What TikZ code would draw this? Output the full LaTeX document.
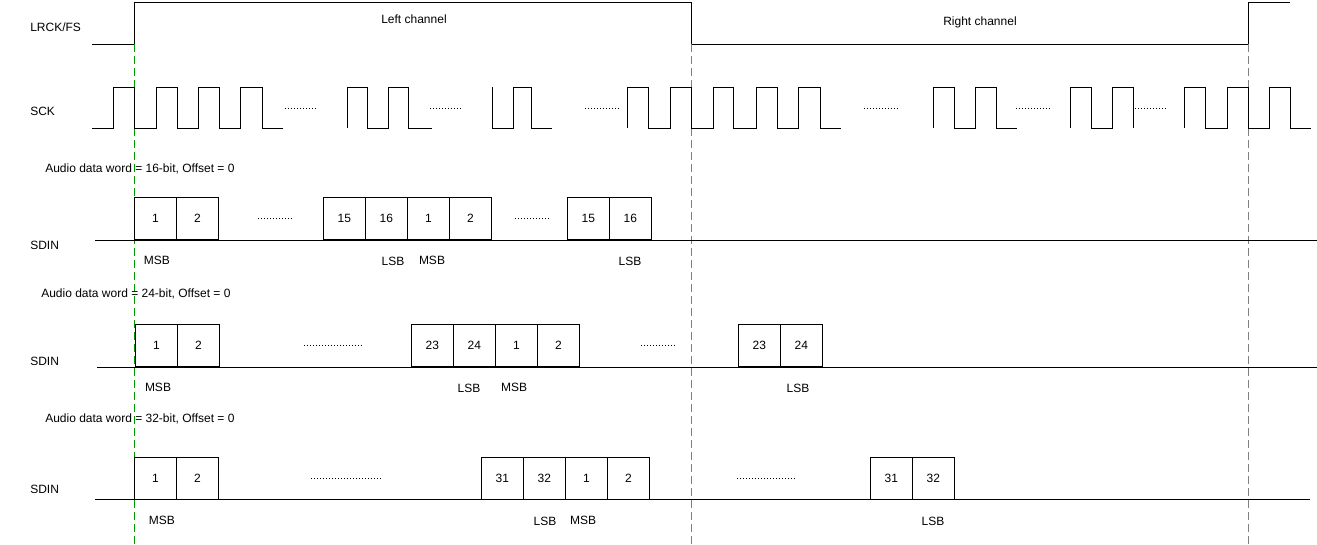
\documentclass[tikz,border=0pt]{standalone}
\usepackage{fontspec}
\setmainfont{Liberation Sans}
\begin{document}
\begin{tikzpicture}[x=0.75pt,y=-0.75pt,
  sig/.style={line width=0.75pt,black},
  base/.style={line width=0.6pt,black},
  bit/.style={draw,line width=0.6pt,minimum width=31.5pt,minimum height=31.5pt,inner sep=0pt,anchor=north west,font=\fontsize{9}{10}\selectfont},
  lbl/.style={font=\fontsize{9}{10}\selectfont,inner sep=0pt},
  dots/.style={dash pattern=on 0.75pt off 1.5pt,line width=0.75pt},
  guide/.style={dashed,dash pattern=on 6pt off 3pt,line width=0.6pt}]
\useasboundingbox (0,0) rectangle (1317,544);
% labels
\node[lbl,anchor=west] (lr) at (30,27) {LRCK/FS};
\node[lbl,anchor=west] (sck) at (30,111) {SCK};
\node[lbl,anchor=west] (s1) at (30,245) {SDIN};
\node[lbl,anchor=west] (s2) at (30,361) {SDIN};
\node[lbl,anchor=west] (s3) at (30,489) {SDIN};
\node[lbl] (lc) at (414,19) {Left channel};
\node[lbl] (rc) at (980,22) {Right channel};
% LRCK
\draw[sig] (92,44) -- (134,44) -- (134,2) -- (691,2) -- (691,44) -- (1248,44) -- (1248,2) -- (1290,2);
% guides
\draw[guide,color=green!60!black] (134,44) -- (134,544);
\draw[guide,gray] (691,44) -- (691,544);
\draw[guide,gray] (1248,44) -- (1248,544);
% SCK
\def\H{87}\def\L{128}
\draw[sig] (92,\L) -- (113,\L) -- (113,\H) -- (134,\H) -- (134,\L) -- (156,\L) -- (156,\H) -- (177,\H) -- (177,\L) -- (198,\L) -- (198,\H) -- (219,\H) -- (219,\L) -- (240,\L) -- (240,\H) -- (262,\H) -- (262,\L) -- (283,\L);
\draw[sig] (347,\L) -- (347,\H) -- (367,\H) -- (367,\L) -- (388,\L) -- (388,\H) -- (408,\H) -- (408,\L) -- (432,\L);
\draw[sig] (492,\H) -- (492,\L) -- (513,\L) -- (513,\H) -- (531,\H) -- (531,\L) -- (552,\L);
\draw[sig] (627,\L) -- (627,\H) -- (648,\H) -- (648,\L) -- (670,\L) -- (670,\H) -- (691,\H) -- (691,\L) -- (713,\L) -- (713,\H) -- (733,\H) -- (733,\L) -- (756,\L) -- (756,\H) -- (777,\H) -- (777,\L) -- (798,\L) -- (798,\H) -- (820,\H) -- (820,\L) -- (841,\L);
\draw[sig] (933,\L) -- (933,\H) -- (954,\H) -- (954,\L) -- (975,\L) -- (975,\H) -- (996,\H) -- (996,\L) -- (1017,\L);
\draw[sig] (1070,\L) -- (1070,\H) -- (1091,\H) -- (1091,\L) -- (1112,\L) -- (1112,\H) -- (1133,\H) -- (1133,\L);
\draw[sig] (1184,\L) -- (1184,\H) -- (1205,\H) -- (1205,\L) -- (1227,\L) -- (1227,\H) -- (1248,\H) -- (1248,\L) -- (1269,\L) -- (1269,\H) -- (1290,\H) -- (1290,\L) -- (1311,\L);
\foreach \a/\b in {285/318,430/463,585/619,864/900,1016/1050,1135/1168}
  \draw[dots] (\a,108) -- (\b,108);
% Row 1
\node[lbl,anchor=west] (t1) at (45,169) {Audio data word = 16-bit, Offset = 0};
\draw[base] (95,240) -- (1317,240);
\foreach \x/\t [count=\i] in {134/1,176/2,323/15,365/16,407/1,449/2,567/15,609/16}
  \node[bit] (ra\i) at (\x,197) {\t};
\draw[dots] (258,218) -- (292,218);
\draw[dots] (515,218) -- (550,218);
\node[lbl] (m1) at (157,260) {MSB};
\node[lbl] (l1) at (393,261) {LSB};
\node[lbl] (m2) at (432,260) {MSB};
\node[lbl] (l2) at (630,261) {LSB};
% Row 2
\node[lbl,anchor=west] (t2) at (41,294) {Audio data word = 24-bit, Offset = 0};
\draw[base] (97,367) -- (1317,367);
\foreach \x/\t [count=\i] in {135/1,177/2,411/23,453/24,495/1,537/2,738/23,780/24}
  \node[bit] (rb\i) at (\x,324) {\t};
\draw[dots] (304,345) -- (363,345);
\draw[dots] (641,345) -- (676,345);
\node[lbl] (m3) at (158,387) {MSB};
\node[lbl] (l3) at (469,388) {LSB};
\node[lbl] (m4) at (514,387) {MSB};
\node[lbl] (l4) at (798,388) {LSB};
% Row 3
\node[lbl,anchor=west] (t3) at (45,419) {Audio data word = 32-bit, Offset = 0};
\draw[base] (95,499) -- (1310,499);
\foreach \x/\t [count=\i] in {134/1,176/2,481/31,523/32,565/1,607/2,870/31,912/32}
  \node[bit] (rc\i) at (\x,457) {\t};
\draw[dots] (311,478) -- (382,478);
\draw[dots] (737,478) -- (796,478);
\node[lbl] (m5) at (162,520) {MSB};
\node[lbl] (l5) at (545,521) {LSB};
\node[lbl] (m6) at (583,520) {MSB};
\node[lbl] (l6) at (933,521) {LSB};
\end{tikzpicture}
\end{document}
